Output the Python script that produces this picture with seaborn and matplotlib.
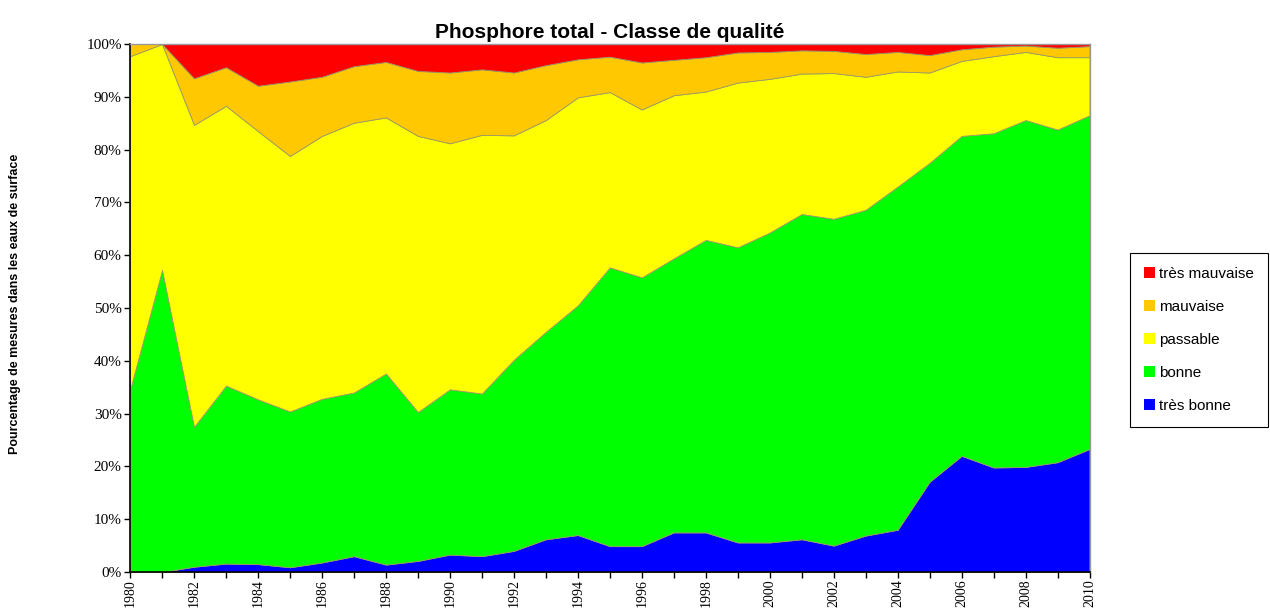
import numpy as np
import pandas as pd
import seaborn as sns
import matplotlib.pyplot as plt
from matplotlib.patches import Patch

annees = list(range(1980, 2011))
tres_bonne = [0, 0, 1.0, 1.6, 1.5, 0.9, 1.8, 3.0, 1.4, 2.1, 3.3, 3.0, 4.0, 6.2, 7.0, 4.9,
              4.9, 7.5, 7.5, 5.6, 5.6, 6.2, 5.0, 6.9, 8.0, 17.1, 22.0, 19.8, 19.9, 20.8, 23.3]
bonne = [34.5, 57.2, 26.5, 33.7, 31.2, 29.5, 31.0, 31.0, 36.2, 28.2, 31.3, 30.8, 36.2, 39.3,
         43.5, 52.8, 50.9, 51.9, 55.4, 55.9, 58.7, 61.6, 61.9, 61.7, 65.0, 60.4, 60.6, 63.3,
         65.7, 63.0, 63.2]
passable = [63.2, 42.8, 57.2, 53.0, 50.8, 48.4, 49.8, 51.1, 48.5, 52.3, 46.6, 49.0, 42.5,
            40.1, 39.4, 33.2, 31.8, 30.9, 28.1, 31.2, 29.1, 26.6, 27.6, 25.2, 21.8, 17.1,
            14.2, 14.6, 12.9, 13.7, 11.0]
mauvaise = [2.3, 0, 8.8, 7.3, 8.6, 14.1, 11.2, 10.7, 10.5, 12.3, 13.4, 12.4, 11.9, 10.4,
            7.2, 6.7, 8.9, 6.7, 6.5, 5.7, 5.1, 4.4, 4.2, 4.3, 3.7, 3.3, 2.2, 1.8, 1.2, 1.8, 2.1]
tres_mauvaise = [0, 0, 6.5, 4.4, 7.9, 7.1, 6.2, 4.2, 3.4, 5.1, 5.4, 4.8, 5.4, 4.0, 2.9, 2.4,
                 3.5, 3.0, 2.5, 1.6, 1.5, 1.2, 1.3, 1.9, 1.5, 2.1, 1.0, 0.5, 0.3, 0.7, 0.4]

classes = ['très bonne', 'bonne', 'passable', 'mauvaise', 'très mauvaise']
couleurs = ['#0000FF', '#00FF00', '#FFFF00', '#FFC800', '#FF0000']

df = pd.DataFrame({'annee': annees, 'très bonne': tres_bonne, 'bonne': bonne,
                   'passable': passable, 'mauvaise': mauvaise,
                   'très mauvaise': tres_mauvaise})
# normaliser a 100 %
tot = df[classes].sum(axis=1)
df[classes] = df[classes].div(tot, axis=0) * 100

sns.set_style('white', {'text.color': 'black', 'axes.labelcolor': 'black',
                        'xtick.color': 'black', 'ytick.color': 'black'})
fig = plt.figure(figsize=(12.7, 6.08), dpi=100)
ax = fig.add_axes([0.1024, 0.0592, 0.7555, 0.8684])

ax.stackplot(df['annee'], [df[c] for c in classes], colors=couleurs,
             edgecolor='#999966', linewidth=0.6)

ax.set_xlim(1980, 2010)
ax.set_ylim(0, 100)
ax.set_xticks(annees)
ax.set_xticklabels([str(a) if a % 2 == 0 else '' for a in annees], rotation=90,
                   family='Liberation Serif', fontsize=10)
ax.set_yticks(range(0, 101, 10))
ax.set_yticklabels([f'{v}%' for v in range(0, 101, 10)], family='Liberation Serif', fontsize=11)
ax.tick_params(axis='x', direction='out', length=4, width=1, color='black', pad=1,
               bottom=True, labelcolor='black')
ax.tick_params(axis='y', direction='out', length=4, width=1, color='black', pad=2,
               left=True, labelcolor='black')
for s in ['left', 'bottom']:
    ax.spines[s].set_color('black')
    ax.spines[s].set_linewidth(1.2)
for s in ['top', 'right']:
    ax.spines[s].set_color('#999999')
    ax.spines[s].set_linewidth(1)

ax.set_title('Phosphore total - Classe de qualité', family='Liberation Sans',
             fontweight='bold', fontsize=15, pad=4, color='black')
fig.text(0.012, 0.5, 'Pourcentage de mesures dans les eaux de surface', rotation=90,
         ha='center', va='center', family=['Liberation Sans Narrow', 'Liberation Sans'],
         fontweight='bold', fontsize=9, color='black')

handles = [Patch(facecolor=couleurs[i], edgecolor='none', label=classes[i]) for i in range(4, -1, -1)]
leg = fig.legend(handles=handles, loc='upper left', bbox_to_anchor=(0.890, 0.584),
                 frameon=True, fancybox=False, edgecolor='black', framealpha=1,
                 prop={'family': 'Liberation Sans', 'size': 11}, labelspacing=1.25,
                 handlelength=0.7, handleheight=0.7, handletextpad=0.3, borderpad=0.9,
                 borderaxespad=0)
leg.get_frame().set_linewidth(0.8)
for t in leg.get_texts():
    t.set_color('black')

fig.savefig('out.png', dpi=100)
